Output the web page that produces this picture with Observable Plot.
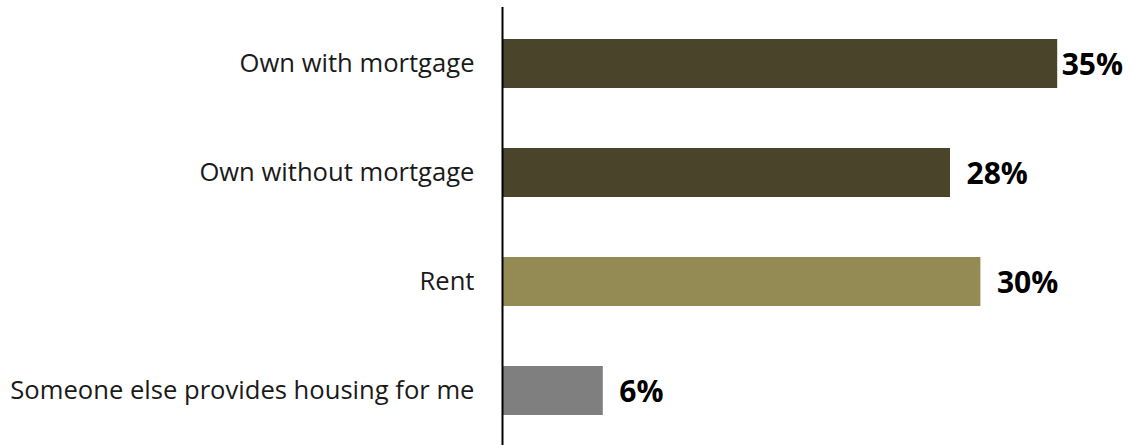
<!DOCTYPE html>
<html>
<head>
<meta charset="utf-8">
<script src="https://cdn.jsdelivr.net/npm/d3@7"></script>
<script src="https://cdn.jsdelivr.net/npm/@observablehq/plot@0.6"></script>
<style>
  html, body { margin: 0; padding: 0; background: #fff; }
  #chart svg { display: block; }
</style>
</head>
<body>
<div id="chart"></div>
<script>
const categories = ["Own with mortgage", "Own without mortgage", "Rent", "Someone else provides housing for me"];
const values = [34.7, 28.0, 29.9, 6.3];
const colors = ["#4a452a", "#4a452a", "#948a54", "#7f7f7f"];

const data = categories.map((c, i) => ({category: c, value: values[i], color: colors[i]}));
const fmt = d => `${Math.round(d.value)}%`;

const chart = Plot.plot({
  width: 1134,
  height: 445,
  marginLeft: 502,
  marginRight: 8,
  marginTop: 7,
  marginBottom: 0,
  style: {fontFamily: "'Open Sans', sans-serif", background: "#fff"},
  x: {domain: [0, 39], axis: null},
  y: {domain: categories, range: [7.3, 446.7], paddingInner: 0.553, paddingOuter: 0.28, label: null},
  marks: [
    Plot.barX(data, {x: "value", y: "category", fill: "color", insetLeft: 1}),
    Plot.axisY({tickSize: 0, tickPadding: 28, fontSize: 25.6, fill: "#1a1a1a", label: null}),
    Plot.ruleX([0], {stroke: "#000", strokeWidth: 2}),
    Plot.text(data.filter((d, i) => i !== 0), {x: "value", y: "category", text: fmt, textAnchor: "start", dx: 16, dy: 1, fontSize: 30, fontWeight: "bold", fill: "#000"}),
    Plot.text(data.filter((d, i) => i === 0), {x: "value", y: "category", text: fmt, textAnchor: "start", dx: 4, dy: 1, fontSize: 30, fontWeight: "bold", fill: "#000"})
  ]
});
document.getElementById("chart").appendChild(chart);
</script>
</body>
</html>
